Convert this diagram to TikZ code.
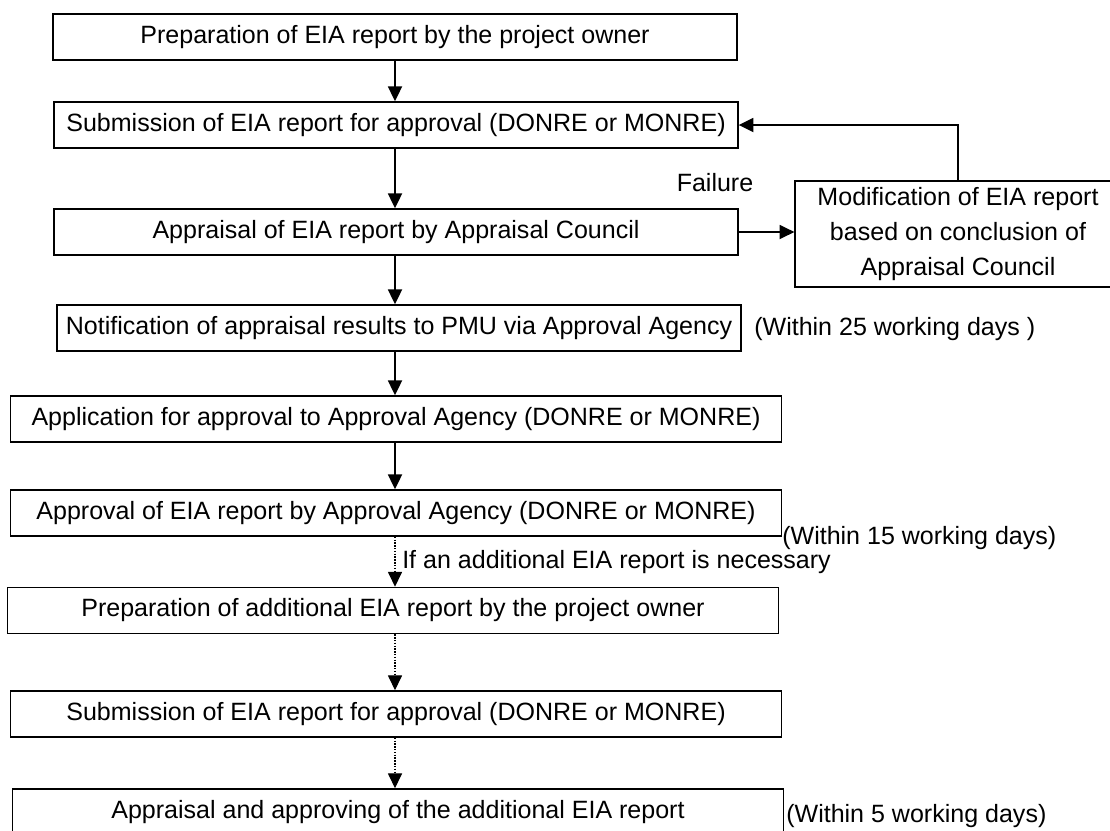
\documentclass[tikz,border=0pt]{standalone}
\usepackage{fontspec}
\setmainfont{Liberation Sans}
\usetikzlibrary{arrows.meta,positioning}
\tikzset{
  procbox/.style={rectangle, draw=black, line width=1.1pt, inner sep=0pt,
                  minimum width=17.09cm, minimum height=1.15cm, align=center,
                  font=\fontsize{17.8pt}{24.9pt}\selectfont},
  procwide/.style={procbox, minimum width=19.27cm},
  note/.style={inner sep=0pt, anchor=west, font=\fontsize{17.8pt}{24.9pt}\selectfont},
  arrow/.style={-{Triangle[length=0.37cm, width=0.35cm]}, line width=1.3pt},
  arrowdot/.style={-{Triangle[length=0.37cm, width=0.35cm]}, line width=0.8pt,
                   dash pattern=on 1pt off 1pt},
}
\begin{document}
\begin{tikzpicture}[x=0.025cm, y=-0.025cm]
\useasboundingbox (0,0) rectangle (1110,830);
% main steps
\node[procbox] (prep) at (395,37) {Preparation of EIA report by the project owner};
\node[procbox] (submit) at (396,125) {Submission of EIA report for approval (DONRE or MONRE)};
\node[procbox] (appraise) at (396,232) {Appraisal of EIA report by Appraisal Council};
\node[procbox, minimum width=8.14cm, minimum height=2.65cm] (modify) at (958,234)
  {Modification of EIA report\\based on conclusion of\\Appraisal Council};
\node[procbox] (notify) at (399,328) {Notification of appraisal results to PMU via Approval Agency};
\node[procwide] (apply) at (396,419) {Application for approval to Approval Agency (DONRE or MONRE)};
\node[procwide] (approve) at (396,513) {Approval of EIA report by Approval Agency (DONRE or MONRE)};
% additional report
\node[procwide] (prepadd) at (393,610.5) {Preparation of additional EIA report by the project owner};
\node[procwide] (submitadd) at (396,714) {Submission of EIA report for approval (DONRE or MONRE)};
\node[procwide] (approveadd) at (398,812) {Appraisal and approving of the additional EIA report};
% side notes
\node[note, anchor=center] (fail) at (715,183) {Failure};
\node[note] (days25) at (754,329) {(Within 25 working days )};
\node[note] (days15) at (782,538) {(Within 15 working days)};
\node[note] (ifadd) at (402,562) {If an additional EIA report is necessary};
\node[note] (days5) at (786,816) {(Within 5 working days)};

\foreach \a/\b in {prep/submit, submit/appraise, appraise/notify, notify/apply, apply/approve}
  \draw[arrow] (\a.south -| prep.south) -- (\b.north -| prep.south);
\foreach \a/\b in {approve/prepadd, prepadd/submitadd, submitadd/approveadd}
  \draw[arrowdot] (\a.south -| prep.south) -- (\b.north -| prep.south);
\draw[arrow] (appraise.east) -- (appraise.east -| modify.west);
\draw[arrow] (modify.north) |- (submit.east);
\end{tikzpicture}
\end{document}
